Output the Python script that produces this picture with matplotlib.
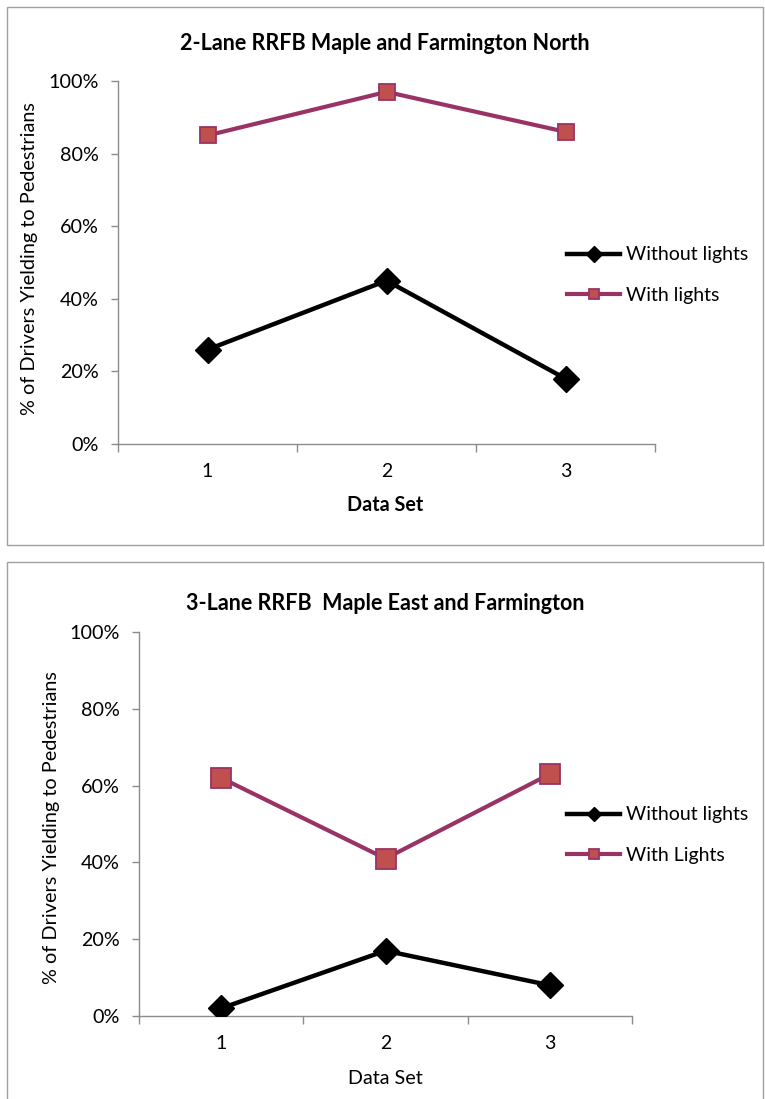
import matplotlib
matplotlib.use("Agg")
import matplotlib.pyplot as plt
from matplotlib.patches import Rectangle
from matplotlib.ticker import FixedLocator, FuncFormatter

plt.rcParams['font.family'] = ['Lato', 'DejaVu Sans']

# ---- data ----
categories = [1, 2, 3]
top_title = "2-Lane RRFB Maple and Farmington North"
top_without = [26, 45, 18]
top_with = [85, 97, 86]
top_labels = ["Without lights", "With lights"]

bot_title = "3-Lane RRFB  Maple East and Farmington"
bot_without = [2, 17, 8]
bot_with = [62, 41, 63]
bot_labels = ["Without lights", "With Lights"]

y_ticks = [0, 20, 40, 60, 80, 100]
ylabel = "% of Drivers Yielding to Pedestrians"
xlabel = "Data Set"

W, H = 765, 1099
DPI = 100
fig = plt.figure(figsize=(W / DPI, H / DPI), dpi=DPI)

PURPLE = "#993366"
RED = "#C0504D"
GRAY = "#8C8C8C"

def fx(px):
    return px / W

def fy(py):
    return 1 - py / H

def panel(x0, y0, x1, y1):
    fig.patches.append(Rectangle((fx(x0), fy(y1)), fx(x1) - fx(x0), fy(y0) - fy(y1),
                                 transform=fig.transFigure, fill=False,
                                 edgecolor="#A0A0A0", linewidth=1.0))

def make_chart(ax_box, without, withl, labels, title, title_xy, xl_xy, xl_bold,
               yl_xy, leg_xy, dsize, ssize, lscale):
    l, t, r, b = ax_box
    ax = fig.add_axes([fx(l), fy(b), fx(r) - fx(l), fy(t) - fy(b)])
    ax.plot(categories, without, color="black", linewidth=3.2, marker="D",
            markersize=dsize, markerfacecolor="black", markeredgecolor="black",
            label=labels[0], zorder=3)
    ax.plot(categories, withl, color=PURPLE, linewidth=3.0, marker="s",
            markersize=ssize, markerfacecolor=RED, markeredgecolor=PURPLE,
            markeredgewidth=1.3, label=labels[1], zorder=3)
    ax.set_xlim(0.5, 3.5)
    ax.set_ylim(0, 100)
    ax.set_yticks(y_ticks)
    ax.yaxis.set_major_formatter(FuncFormatter(lambda v, p: f"{int(v)}%"))
    ax.xaxis.set_major_locator(FixedLocator([0.5, 1.5, 2.5, 3.5]))
    ax.xaxis.set_major_formatter(FuncFormatter(lambda v, p: ""))
    ax.xaxis.set_minor_locator(FixedLocator(categories))
    ax.xaxis.set_minor_formatter(FuncFormatter(lambda v, p: f"{int(round(v))}"))
    ax.tick_params(axis="x", which="minor", length=0, labelsize=14, pad=14)
    ax.tick_params(axis="x", which="major", length=6, color=GRAY, width=1)
    ax.tick_params(axis="y", length=5, color=GRAY, width=1, labelsize=14.2, pad=9)
    for s in ("top", "right"):
        ax.spines[s].set_visible(False)
    for s in ("left", "bottom"):
        ax.spines[s].set_color(GRAY)
        ax.spines[s].set_linewidth(1)
    ax.patch.set_alpha(0)
    fig.text(fx(title_xy[0]), fy(title_xy[1]), title, ha="center", va="center",
             fontsize=15.5, fontweight="bold")
    fig.text(fx(xl_xy[0]), fy(xl_xy[1]), xlabel, ha="center", va="center",
             fontsize=14.2, fontweight="bold" if xl_bold else "normal")
    fig.text(fx(yl_xy[0]), fy(yl_xy[1]), ylabel, ha="center", va="center",
             rotation=90, fontsize=14.3)
    ax.legend(loc="center left", bbox_to_anchor=(fx(leg_xy[0]), fy(leg_xy[1])),
              bbox_transform=fig.transFigure, frameon=False, fontsize=14,
              handlelength=2.75, handletextpad=0.3, labelspacing=1.2,
              markerscale=lscale, borderpad=0, borderaxespad=0)
    return ax

panel(7, 7, 763, 545)
panel(7, 562, 763, 1110)

make_chart((118, 81, 655, 444), top_without, top_with, top_labels, top_title,
           (385, 43), (385, 505), True, (30, 259), (567, 275), 13, 12, 0.6)
make_chart((139, 632, 632, 1016), bot_without, bot_with, bot_labels, bot_title,
           (385, 603), (385, 1078), False, (52, 828), (567, 835), 13.5, 14.2, 0.55)

fig.savefig("out.png", dpi=DPI)
